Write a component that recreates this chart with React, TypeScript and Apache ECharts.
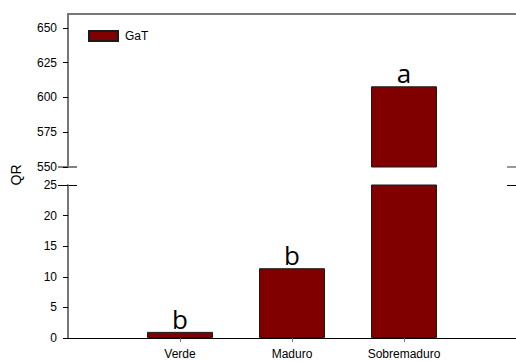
import React, { useEffect, useRef } from "react";
import * as echarts from "echarts";

const categories = ["Verde", "Maduro", "Sobremaduro"];
const positions = [1, 2, 3];
const qrValues = [1.0, 11.4, 608];
const letters = ["b", "b", "a"];
const seriesName = "GaT";
const topTicks = [550, 575, 600, 625, 650];
const bottomTicks = [0, 5, 10, 15, 20, 25];
const TOP_MIN = 550;
const TOP_MAX = 660;
const BOTTOM_MIN = 0;
const BOTTOM_MAX = 25;
const X_MIN = 0;
const X_MAX = 4;

const LEFT = 68;
const TOP_Y = 14;
const PANEL_H = 153;
const BOT_Y = 185;
const W = 516;
const H = 362;

const FONT = "'Liberation Sans', Arial, sans-serif";
const BAR_COLOR = "#800000";
const GRAY = "#777777";

export default function App() {
  const ref = useRef<HTMLDivElement>(null);
  useEffect(() => {
    if (!ref.current) return;
    const chart = echarts.init(ref.current, undefined, { renderer: "svg" });

    const letterLabel = (i: number, show: boolean) => ({
      show,
      position: "top" as const,
      distance: 0,
      formatter: letters[i],
      fontFamily: "'Open Sans', sans-serif",
      fontSize: 26,
      color: "#000",
    });

    const topData = qrValues
      .map((v, i) => ({ v, i }))
      .filter((d) => d.v >= TOP_MIN)
      .map((d) => ({ value: [positions[d.i], d.v], label: letterLabel(d.i, true) }));
    const bottomData = qrValues.map((v, i) => ({
      value: [positions[i], v],
      label: letterLabel(i, v <= BOTTOM_MAX),
    }));

    const labelStyle = { color: "#000", fontFamily: FONT, fontSize: 12 };
    const barStyle = { color: BAR_COLOR, borderColor: "#1a1a1a", borderWidth: 1 };

    chart.setOption({
      animation: false,
      grid: [
        { left: LEFT, right: 0, top: TOP_Y, height: PANEL_H },
        { left: LEFT, right: 0, top: BOT_Y, height: PANEL_H },
      ],
      legend: {
        data: [seriesName],
        left: 88,
        top: 30,
        padding: 0,
        icon: "rect",
        itemWidth: 29,
        itemHeight: 10,
        itemGap: 5,
        textStyle: { ...labelStyle, fontSize: 12, padding: [0, 0, 0, 2] },
      },
      xAxis: [
        {
          type: "value",
          gridIndex: 0,
          position: "top",
          min: X_MIN,
          max: X_MAX,
          interval: 1,
          axisLine: { show: true, lineStyle: { color: GRAY, width: 2 } },
          axisTick: { show: false },
          axisLabel: { show: false },
          splitLine: { show: false },
        },
        {
          type: "value",
          gridIndex: 1,
          position: "bottom",
          min: X_MIN,
          max: X_MAX,
          interval: 1,
          axisLine: { show: true, onZero: false, lineStyle: { color: "#000", width: 1 } },
          axisTick: {
            show: true,
            length: 4,
            customValues: positions,
            lineStyle: { color: GRAY },
          },
          axisLabel: {
            ...labelStyle,
            margin: 10,
            customValues: positions,
            formatter: (v: number) => categories[positions.indexOf(v)] ?? "",
          },
          splitLine: { show: false },
        },
      ],
      yAxis: [
        {
          type: "value",
          gridIndex: 0,
          min: TOP_MIN,
          max: TOP_MAX,
          interval: 25,
          axisLine: { show: true, lineStyle: { color: GRAY, width: 2 } },
          axisTick: { show: true, length: 5, customValues: topTicks, lineStyle: { color: "#000" } },
          axisLabel: { ...labelStyle, margin: 11, customValues: topTicks },
          splitLine: { show: false },
        },
        {
          type: "value",
          gridIndex: 1,
          min: BOTTOM_MIN,
          max: BOTTOM_MAX,
          interval: 5,
          axisLine: { show: true, lineStyle: { color: GRAY, width: 2 } },
          axisTick: { show: true, length: 5, customValues: bottomTicks, lineStyle: { color: "#000" } },
          axisLabel: { ...labelStyle, margin: 11, customValues: bottomTicks },
          splitLine: { show: false },
        },
      ],
      series: [
        {
          name: seriesName,
          type: "bar",
          xAxisIndex: 0,
          yAxisIndex: 0,
          barWidth: 66,
          clip: true,
          itemStyle: barStyle,
          data: topData,
        },
        {
          name: seriesName,
          type: "bar",
          xAxisIndex: 1,
          yAxisIndex: 1,
          barWidth: 66,
          clip: true,
          itemStyle: barStyle,
          data: bottomData,
        },
      ],
      graphic: [
        {
          type: "text",
          x: 16,
          y: 175,
          rotation: Math.PI / 2,
          style: {
            text: "QR",
            fontFamily: FONT,
            fontSize: 14,
            fill: "#000",
            align: "center",
            verticalAlign: "middle",
          },
        },
        { type: "line", shape: { x1: 58, y1: 167, x2: 77, y2: 167 }, style: { stroke: "#000", lineWidth: 1 } },
        { type: "line", shape: { x1: 58, y1: 185.5, x2: 77, y2: 185.5 }, style: { stroke: "#000", lineWidth: 1 } },
        { type: "line", shape: { x1: 507, y1: 167, x2: 516, y2: 167 }, style: { stroke: GRAY, lineWidth: 1.5 } },
        { type: "line", shape: { x1: 507, y1: 185.5, x2: 516, y2: 185.5 }, style: { stroke: "#000", lineWidth: 1 } },
      ],
    });
    return () => chart.dispose();
  }, []);
  return (
    <div
      ref={ref}
      style={{ position: "absolute", left: 0, top: 0, width: W, height: H, background: "#fff" }}
    />
  );
}
